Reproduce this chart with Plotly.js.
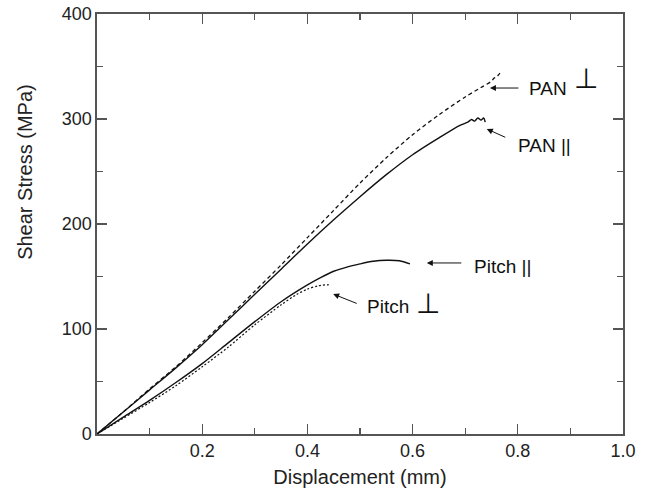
<!DOCTYPE html>
<html>
<head>
<meta charset="utf-8">
<script src="https://cdn.plot.ly/plotly-3.0.1.min.js"></script>
<style>html,body{margin:0;padding:0;background:#fff;}#chart{width:653px;height:496px;}</style>
</head>
<body>
<div id="chart"></div>
<script>
// Displacement (mm) / Shear stress (MPa)
const panPerpX   = [0, 0.05, 0.1, 0.15, 0.2, 0.25, 0.3, 0.35, 0.4, 0.45, 0.5, 0.55, 0.6, 0.65, 0.7, 0.73, 0.75, 0.755, 0.76, 0.765, 0.77];
const panPerpY   = [0, 21, 43, 64, 87, 111, 136, 161, 187, 213, 239, 263, 285, 304, 321, 330, 336, 339, 340, 343, 345];

const panParX    = [0, 0.05, 0.1, 0.15, 0.2, 0.25, 0.3, 0.35, 0.4, 0.45, 0.5, 0.55, 0.6, 0.65, 0.69, 0.705, 0.712, 0.718, 0.724, 0.73, 0.735, 0.738];
const panParY    = [0, 21, 42, 63, 85, 109, 133, 157, 181, 204, 226, 247, 266, 282, 294, 297, 299.5, 298, 301, 299, 301, 297];

const pitchParX  = [0, 0.05, 0.1, 0.15, 0.2, 0.25, 0.3, 0.35, 0.4, 0.425, 0.45, 0.475, 0.5, 0.525, 0.55, 0.575, 0.595];
const pitchParY  = [0, 16, 32, 49, 67, 87, 107, 126, 142, 149, 155, 159, 162, 164.5, 165.5, 165, 162];

const pitchPerpX = [0, 0.05, 0.1, 0.15, 0.2, 0.25, 0.3, 0.35, 0.38, 0.4, 0.42, 0.44, 0.443];
const pitchPerpY = [0, 15, 30, 46, 64, 83, 104, 123, 133, 138, 141, 142, 141];

const xTickVals  = [0.2, 0.4, 0.6, 0.8, 1.0];
const xTickText  = ['0.2', '0.4', '0.6', '0.8', '1.0'];
const xMinorVals = [0.1, 0.3, 0.5, 0.7, 0.9];
const yTickVals  = [0, 100, 200, 300, 400];
const yTickText  = ['0', '100', '200', '300', '400'];
const yMinorVals = [50, 150, 250, 350];

// label annotations: arrow heads (data coords) with tail offsets (px), texts
const arrowHeads = [
  {x: 0.747, y: 329.5, ax: 30, ay: 0},
  {x: 0.741, y: 290.5, ax: 20, ay: 9},
  {x: 0.627, y: 162.9, ax: 36, ay: 0},
  {x: 0.449, y: 133.3, ax: 25, ay: 10}
];
const labelTexts = ['PAN', 'PAN ||', 'Pitch ||', 'Pitch'];
const labelX = [0.817, 0.797, 0.713, 0.509];
const labelY = [329.5, 275, 160, 121];
const perpX = [0.930, 0.630];
const perpY = [338.5, 124];

const FONT = '"Liberation Sans", Arial, Helvetica, sans-serif';
const lineColor = '#111';

const traces = [
  {x: panPerpX, y: panPerpY, mode: 'lines', line: {color: lineColor, width: 1.3, dash: '4px,3px', shape: 'spline', smoothing: 0.8}},
  {x: panParX, y: panParY, mode: 'lines', line: {color: lineColor, width: 1.4, shape: 'spline', smoothing: 0.8}},
  {x: pitchParX, y: pitchParY, mode: 'lines', line: {color: lineColor, width: 1.4, shape: 'spline', smoothing: 0.8}},
  {x: pitchPerpX, y: pitchPerpY, mode: 'lines', line: {color: lineColor, width: 1.2, dash: '2px,2px', shape: 'spline', smoothing: 0.8}}
];

const annotations = [];
arrowHeads.forEach(a => annotations.push({
  x: a.x, y: a.y, xref: 'x', yref: 'y', text: '', showarrow: true,
  ax: a.ax, ay: a.ay, arrowhead: 2, arrowsize: 1.2, arrowwidth: 1, arrowcolor: '#111', standoff: 0
}));
labelTexts.forEach((t, i) => annotations.push({
  x: labelX[i], y: labelY[i], xref: 'x', yref: 'y', text: t, showarrow: false,
  xanchor: 'left', yanchor: 'middle', font: {family: FONT, size: 19, color: '#111'}
}));
perpX.forEach((px, i) => annotations.push({
  x: px, y: perpY[i], xref: 'x', yref: 'y', text: '⊥', showarrow: false,
  xanchor: 'center', yanchor: 'middle', font: {family: '"DejaVu Sans", sans-serif', size: 28, color: '#111'}
}));
// y-axis title (sits above the axis centre in the reference)
annotations.push({
  x: -0.137, y: 0.624, xref: 'paper', yref: 'paper', text: 'Shear Stress (MPa)', showarrow: false,
  textangle: -90, xanchor: 'center', yanchor: 'middle', font: {family: FONT, size: 20, color: '#222'}
});

const axisCommon = {
  showgrid: false, zeroline: false, showline: true, linecolor: '#555', linewidth: 1.6,
  mirror: 'allticks', ticks: 'inside', ticklen: 10, tickwidth: 1.3, tickcolor: '#555',
  tickfont: {family: FONT, size: 18, color: '#222'}, fixedrange: true
};

const layout = {
  width: 653, height: 496,
  margin: {l: 97, r: 30, t: 14, b: 62},
  paper_bgcolor: '#fff', plot_bgcolor: '#fff',
  showlegend: false,
  xaxis: Object.assign({}, axisCommon, {
    range: [0, 1], tickmode: 'array', tickvals: xTickVals, ticktext: xTickText,
    minor: {tickmode: 'array', tickvals: xMinorVals, ticks: 'inside', ticklen: 6, tickwidth: 1.3, tickcolor: '#555'},
    title: {text: 'Displacement (mm)', font: {family: FONT, size: 20, color: '#222'}, standoff: 10}
  }),
  yaxis: Object.assign({}, axisCommon, {
    range: [0, 400], tickmode: 'array', tickvals: yTickVals, ticktext: yTickText,
    minor: {tickmode: 'array', tickvals: yMinorVals, ticks: 'inside', ticklen: 6, tickwidth: 1.3, tickcolor: '#555'}
  }),
  annotations: annotations
};

Plotly.newPlot('chart', traces, layout, {displayModeBar: false, staticPlot: true});
</script>
</body>
</html>
